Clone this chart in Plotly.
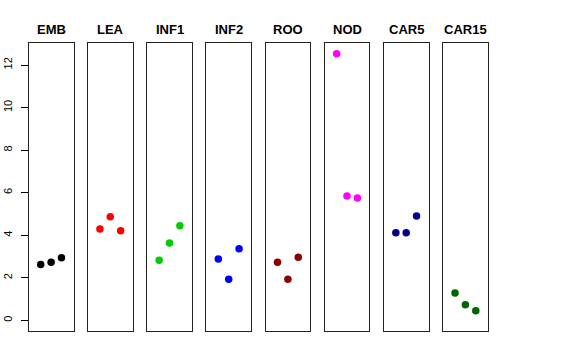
import plotly.graph_objects as go

categories = ["EMB", "LEA", "INF1", "INF2", "ROO", "NOD", "CAR5", "CAR15"]
replicates = [1, 2, 3]
values = {
    "EMB": [2.63, 2.73, 2.94],
    "LEA": [4.29, 4.87, 4.21],
    "INF1": [2.82, 3.63, 4.45],
    "INF2": [2.88, 1.93, 3.37],
    "ROO": [2.73, 1.93, 2.97],
    "NOD": [12.53, 5.84, 5.75],
    "CAR5": [4.12, 4.12, 4.90],
    "CAR15": [1.28, 0.73, 0.45],
}
colors = ["#000000", "#FF0000", "#00CD00", "#0000FF", "#8B0000", "#FF00FF", "#00008B", "#006400"]
y_ticks = [0, 2, 4, 6, 8, 10, 12]

W, H = 576, 360
lefts = [28.7, 87.9, 147.1, 206.3, 265.5, 324.6, 383.8, 443.0]
pw = 44.8
top, bottom = 43.3, 331.0

fig = go.Figure()
layout = dict(
    width=W, height=H, margin=dict(l=0, r=0, t=0, b=0, autoexpand=False),
    paper_bgcolor="white", plot_bgcolor="white", showlegend=False,
    font=dict(family="Liberation Sans, Arial, sans-serif", color="black"),
)
annotations = []
for i, cat in enumerate(categories):
    n = i + 1
    xa = "x" if n == 1 else f"x{n}"
    ya = "y" if n == 1 else f"y{n}"
    fig.add_trace(go.Scatter(
        x=replicates, y=values[cat], mode="markers",
        marker=dict(color=colors[i], size=7.5),
        xaxis=xa, yaxis=ya, hoverinfo="x+y",
    ))
    xd = [lefts[i] / W, (lefts[i] + pw) / W]
    yd = [(H - bottom) / H, (H - top) / H]
    layout["xaxis" if n == 1 else f"xaxis{n}"] = dict(
        domain=xd, range=[-0.16, 4.16], showticklabels=False, ticks="",
        showgrid=False, zeroline=False, showline=True, mirror=True,
        linecolor="#222222", linewidth=1, anchor=ya, automargin=False,
    )
    yax = dict(
        domain=yd, range=[-0.5, 13.02], showgrid=False, zeroline=False,
        showline=True, mirror=True, linecolor="#222222", linewidth=1, anchor=xa,
        automargin=False,
    )
    if n == 1:
        yax.update(tickvals=y_ticks, ticks="outside", ticklen=7, tickcolor="black",
                   tickangle=-90, ticklabelstandoff=4,
                   tickfont=dict(size=11, color="black"))
    else:
        yax.update(showticklabels=False, ticks="")
    layout["yaxis" if n == 1 else f"yaxis{n}"] = yax
    annotations.append(dict(
        text=f"<b>{cat}</b>", x=(lefts[i] + pw / 2) / W, y=1 - 29 / H,
        xref="paper", yref="paper", showarrow=False,
        font=dict(size=13, color="black"), xanchor="center", yanchor="middle",
    ))
layout["annotations"] = annotations
fig.update_layout(**layout)
# remove the default page margin so the 576x360 figure fills the window exactly
fig.write_html(
    "out.html",
    config={"displayModeBar": False},
    post_script="document.body.style.margin='0';document.body.style.overflow='hidden';",
)
